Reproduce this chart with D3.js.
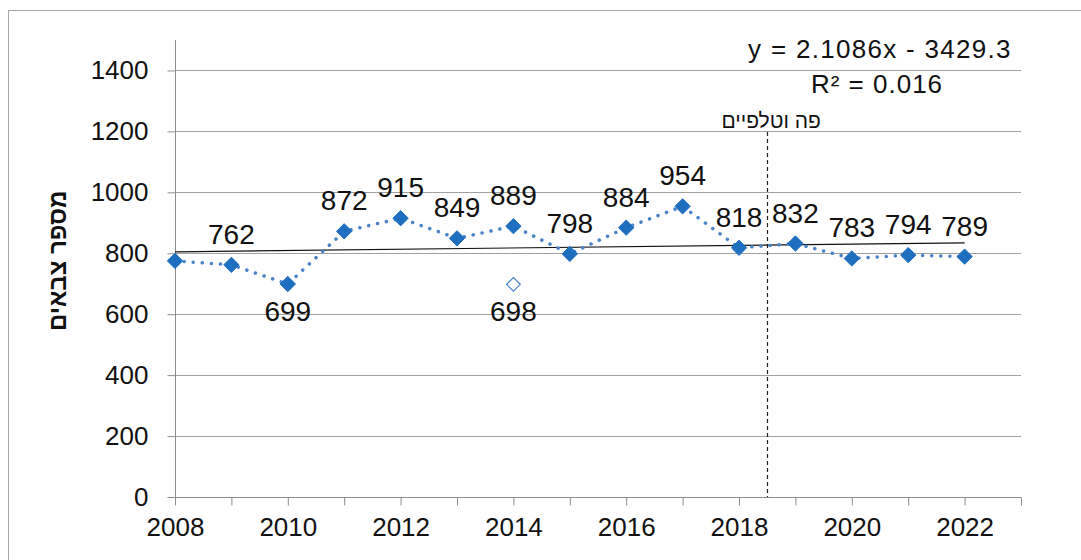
<!DOCTYPE html>
<html>
<head>
<meta charset="utf-8">
<script src="https://cdn.jsdelivr.net/npm/d3@7"></script>
<style>
  body { margin: 0; background: #fff; }
  text { font-family: "Liberation Sans", Arial, sans-serif; }
</style>
</head>
<body>
<div id="chart"></div>
<script>
const width = 1081, height = 560;

// data
const years = [2008, 2009, 2010, 2011, 2012, 2013, 2014, 2015, 2016, 2017, 2018, 2019, 2020, 2021, 2022];
const counts = [775, 762, 699, 872, 915, 849, 889, 798, 884, 954, 818, 832, 783, 794, 789];
const showLabel = [false, true, true, true, true, true, true, true, true, true, true, true, true, true, true];
const labelBelow = [false, false, true, false, false, false, false, false, false, false, false, false, false, false, false];
const altPoint = {year: 2014, value: 698};
const trend = {slope: 2.1086, intercept: -3429.3, r2: 0.016};
const markerYear = 2018.5;
const markerText = 'פה וטלפיים';
const yTicks = [0, 200, 400, 600, 800, 1000, 1200, 1400];
const xTicks = [2008, 2010, 2012, 2014, 2016, 2018, 2020, 2022];
const yTitle = 'מספר צבאים';

const margin = {left: 175, right: 60, top: 40, bottom: 63};
const font = '"Liberation Sans", Arial, sans-serif';

const svg = d3.select('#chart').append('svg')
  .attr('width', width).attr('height', height);

// outer frame
svg.append('rect').attr('x', 8.5).attr('y', 10.5)
  .attr('width', 1100).attr('height', 600)
  .attr('fill', 'none').attr('stroke', '#a6a6a6');

const x = d3.scaleLinear().domain([2008, 2023]).range([margin.left, width - margin.right]);
const y = d3.scaleLinear().domain([0, 1500]).range([height - margin.bottom, margin.top]);

// gridlines
svg.append('g').selectAll('line').data(yTicks.filter(d => d > 0)).join('line')
  .attr('x1', x(2008)).attr('x2', x(2023))
  .attr('y1', d => Math.round(y(d)) + 0.5).attr('y2', d => Math.round(y(d)) + 0.5)
  .attr('stroke', '#a0a0a0').attr('stroke-width', 1);

// y axis
const yAxis = svg.append('g')
  .attr('transform', `translate(${Math.round(x(2008)) + 0.5},0)`)
  .call(d3.axisLeft(y).tickValues(yTicks).tickSize(8).tickPadding(19).tickFormat(d3.format('d')));
yAxis.select('.domain').attr('stroke', '#8c8c8c').attr('d', `M0,${y(0)}V${y(1500)}`);
yAxis.selectAll('.tick line').attr('stroke', '#8c8c8c');
yAxis.selectAll('.tick text').attr('font-size', 26).attr('fill', '#111').attr('font-family', font);

// x axis
const xAxis = svg.append('g')
  .attr('transform', `translate(0,${Math.round(y(0)) + 0.5})`)
  .call(d3.axisBottom(x).tickValues(d3.range(2008, 2024)).tickSize(8).tickPadding(12)
    .tickFormat(d => xTicks.includes(d) ? d : ''));
xAxis.select('.domain').attr('stroke', '#8c8c8c').attr('d', `M${x(2008)},0H${x(2023)}`);
xAxis.selectAll('.tick line').attr('stroke', '#8c8c8c');
xAxis.selectAll('.tick text').attr('font-size', 26).attr('fill', '#111').attr('font-family', font);

// y title
svg.append('text')
  .attr('transform', `translate(66,${y(775)}) rotate(-90)`)
  .attr('text-anchor', 'middle')
  .attr('font-size', 24).attr('font-weight', 'bold').attr('fill', '#111')
  .text(yTitle);

// vertical marker
svg.append('line')
  .attr('x1', Math.round(x(markerYear)) + 0.5).attr('x2', Math.round(x(markerYear)) + 0.5)
  .attr('y1', 132).attr('y2', y(0))
  .attr('stroke', '#222').attr('stroke-width', 1.2).attr('stroke-dasharray', '4,3');
svg.append('text')
  .attr('x', x(markerYear) + 4).attr('y', 128)
  .attr('text-anchor', 'middle').attr('font-size', 21).attr('fill', '#111')
  .text(markerText);

// trend line
svg.append('line')
  .attr('x1', x(2008)).attr('y1', y(trend.slope * 2008 + trend.intercept))
  .attr('x2', x(2022)).attr('y2', y(trend.slope * 2022 + trend.intercept))
  .attr('stroke', '#111').attr('stroke-width', 1.2);

// series line
const pts = years.map((yr, i) => ({yr, v: counts[i], i}));
svg.append('path').datum(pts)
  .attr('d', d3.line().x(d => x(d.yr)).y(d => y(d.v)))
  .attr('fill', 'none').attr('stroke', '#4a84c8').attr('stroke-width', 3.5)
  .attr('stroke-linecap', 'round').attr('stroke-dasharray', '0.1,9');

// markers
svg.append('g').selectAll('path').data(pts).join('path')
  .attr('transform', d => `translate(${x(d.yr)},${y(d.v)})`)
  .attr('d', d3.symbol().type(d3.symbolDiamond2).size(150))
  .attr('fill', '#1f6fc1').attr('stroke', '#1f6fc1').attr('stroke-width', 1);

svg.append('path')
  .attr('transform', `translate(${x(altPoint.year)},${y(altPoint.value)})`)
  .attr('d', d3.symbol().type(d3.symbolDiamond2).size(120))
  .attr('fill', '#fff').attr('stroke', '#4a84c8').attr('stroke-width', 1.2);

// data labels
svg.append('g').selectAll('text').data(pts.filter(d => showLabel[d.i])).join('text')
  .attr('x', d => x(d.yr))
  .attr('y', d => labelBelow[d.i] ? y(d.v) + 37 : y(d.v) - 21)
  .attr('text-anchor', 'middle').attr('font-size', 28).attr('fill', '#111')
  .text(d => d.v);
svg.append('text')
  .attr('x', x(altPoint.year)).attr('y', y(altPoint.value) + 37)
  .attr('text-anchor', 'middle').attr('font-size', 28).attr('fill', '#111')
  .text(altPoint.value);

// trend equation
const eqX = 880;
svg.append('text').attr('x', eqX).attr('y', 58)
  .attr('text-anchor', 'middle').attr('font-size', 26).attr('letter-spacing', 1.3).attr('fill', '#111')
  .text(`y = ${trend.slope}x - ${Math.abs(trend.intercept)}`);
svg.append('text').attr('x', eqX - 3).attr('y', 93)
  .attr('text-anchor', 'middle').attr('font-size', 26).attr('letter-spacing', 1).attr('fill', '#111')
  .text(`R² = ${trend.r2}`);
</script>
</body>
</html>
